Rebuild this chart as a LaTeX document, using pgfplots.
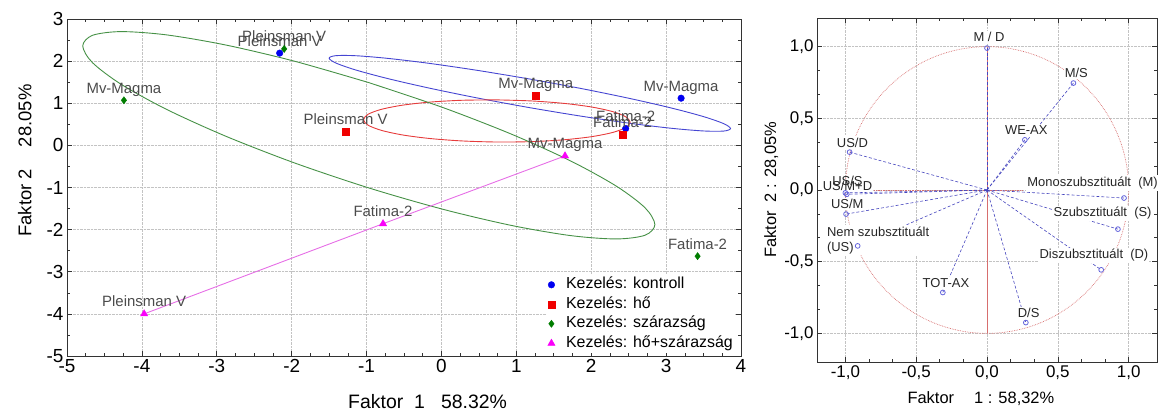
\documentclass[border=0pt]{standalone}
\usepackage{fontspec}
\setmainfont{Liberation Sans}
\usepackage{pgfplots}
\usepackage{pgfplotstable}
\pgfplotsset{compat=1.18}

\definecolor{cblue}{RGB}{0,0,240}
\definecolor{cred}{RGB}{240,0,0}
\definecolor{cgreen}{RGB}{0,125,0}
\definecolor{cmag}{RGB}{250,0,250}
\definecolor{eblue}{RGB}{70,70,210}
\definecolor{ered}{RGB}{230,60,60}
\definecolor{egreen}{RGB}{70,145,70}
\definecolor{lmag}{RGB}{230,110,230}
\definecolor{labgray}{RGB}{75,75,75}
\definecolor{vecblue}{RGB}{70,70,190}
\definecolor{markblue}{RGB}{100,100,220}
\definecolor{circred}{RGB}{215,110,110}
\definecolor{gridgray}{RGB}{195,195,195}

% Scores, treatment groups
\pgfplotstableread{
x y label
-2.16 2.19 {Pleinsman V}
3.20 1.12 Mv-Magma
2.46 0.40 Fatima-2
}\kontroll
\pgfplotstableread{
x y label
-1.28 0.33 {Pleinsman V}
1.26 1.18 Mv-Magma
2.42 0.25 Fatima-2
}\ho
\pgfplotstableread{
x y label
-2.10 2.29 {Pleinsman V}
-4.24 1.07 Mv-Magma
3.42 -2.63 Fatima-2
}\szarazsag
\pgfplotstableread{
x y label
-3.97 -4.00 {Pleinsman V}
-0.78 -1.86 Fatima-2
1.65 -0.25 Mv-Magma
}\hoszar
% Loadings
\pgfplotstableread{
x y label
0.000 0.990 M/D
0.610 0.746 M/S
0.267 0.350 WE-AX
-0.970 0.264 US/D
-0.990 -0.030 US/S
-1.000 -0.020 US/M+D
-0.995 -0.168 US/M
-0.913 -0.390 US
-0.312 -0.715 TOT-AX
0.274 -0.925 D/S
0.806 -0.557 D
0.924 -0.273 S
0.967 -0.056 M
}\loadings

\pgfplotsset{
  ptlabels/.style={nodes near coords, point meta=explicit symbolic,
    every node near coord/.append style={font=\fontsize{15}{15}\selectfont, text=labgray, anchor=base, yshift=7bp, inner sep=0pt}},
  framestyle/.style={
    scale only axis, tick align=inside,
    axis line style={black!80, line width=0.8bp},
    tick style={black!80, line width=0.6bp},
    major tick length=5bp, minor tick length=3bp,
    grid=major, major grid style={gridgray, densely dotted, line width=0.6bp},
    /pgf/number format/assume math mode=true,
    clip=false,
  },
}

\begin{document}
\begin{tikzpicture}[x=1bp,y=1bp,
  lbl/.style={font=\fontsize{13}{15}\selectfont, fill=white, inner xsep=1bp, inner ysep=1.5bp, text=black!85}]
\useasboundingbox (0,0) rectangle (1167,416);
\begin{axis}[framestyle,
  at={(67bp,60bp)}, anchor=south west,
  width=674bp, height=337bp,
  xmin=-5, xmax=4, ymin=-5, ymax=3,
  xtick={-5,-4,...,4}, ytick={-5,-4,...,3},
  minor x tick num=3, minor y tick num=1,
  ticklabel style={font=\fontsize{19}{19}\selectfont},
  xlabel={Faktor\ \ 1\ \ \ 58.32\%},
  ylabel={Faktor\ 2\hspace{22bp}28.05\%},
  xlabel style={font=\fontsize{19.5}{19.5}\selectfont, at={(axis description cs:0.535,-0.155)}, anchor=base},
  ylabel style={font=\fontsize{18.5}{18.5}\selectfont, at={(axis description cs:-0.053,0.58)}, anchor=base},
  legend style={at={(axis description cs:1,0)}, anchor=south east, xshift=-6bp, yshift=3bp,
    draw=none, fill=white, font=\fontsize{16}{16}\selectfont, inner sep=1bp,
    row sep=2.5bp, column sep=10bp, nodes={inner sep=1bp, text height=11.5bp, text depth=3.5bp}},
  legend cell align=left,
]
% confidence ellipses
\addplot[eblue, line width=0.9bp, smooth, no marks, forget plot] coordinates {
(1.18,1.575) (0.486,1.779) (-0.16,1.9465) (-0.715,2.065) (-1.141,2.128) (-1.409,2.13)
(-1.50,2.07) (-1.409,1.954) (-1.141,1.788) (-0.715,1.585) (-0.16,1.3585) (0.486,1.123)
(1.18,0.895) (1.874,0.691) (2.52,0.5235) (3.075,0.405) (3.501,0.342) (3.769,0.34)
(3.86,0.40) (3.769,0.516) (3.501,0.682) (3.075,0.885) (2.52,1.1115) (1.874,1.347) (1.18,1.575)};
\addplot[ered, line width=0.9bp, smooth, no marks, forget plot] coordinates {
(0.74,1.08) (0.279,1.071) (-0.15,1.028) (-0.518,0.955) (-0.801,0.856) (-0.979,0.739)
(-1.04,0.61) (-0.979,0.479) (-0.801,0.356) (-0.518,0.247) (-0.15,0.162) (0.279,0.105)
(0.74,0.08) (1.201,0.089) (1.63,0.132) (1.998,0.205) (2.281,0.304) (2.459,0.421)
(2.52,0.55) (2.459,0.681) (2.281,0.804) (1.998,0.913) (1.63,0.998) (1.201,1.055) (0.74,1.08)};
\addplot[egreen, line width=0.9bp, smooth, no marks, forget plot] coordinates {
(-0.97,1.49) (-1.959,1.9965) (-2.88,2.3825) (-3.671,2.623) (-4.278,2.701) (-4.66,2.612)
(-4.79,2.36) (-4.66,1.964) (-4.278,1.451) (-3.671,0.855) (-2.88,0.2175) (-1.959,-0.4185)
(-0.97,-1.01) (0.019,-1.5165) (0.94,-1.9025) (1.731,-2.143) (2.338,-2.221) (2.72,-2.132)
(2.85,-1.88) (2.72,-1.484) (2.338,-0.971) (1.731,-0.375) (0.94,0.2625) (0.019,0.8985) (-0.97,1.49)};
\addplot[lmag, line width=0.9bp, no marks, forget plot] table[x=x,y=y] {\hoszar};
% groups
\addplot[only marks, mark=*, mark size=3.3bp, cblue, ptlabels] table[x=x,y=y,meta=label] {\kontroll};
\addlegendentry{Kezelés: kontroll}
\addplot[only marks, mark=square*, mark size=3.4bp, cred, ptlabels] table[x=x,y=y,meta=label] {\ho};
\addlegendentry{Kezelés: hő}
\addplot[only marks, mark=diamond*, mark size=3.6bp, cgreen, ptlabels] table[x=x,y=y,meta=label] {\szarazsag};
\addlegendentry{Kezelés: szárazság}
\addplot[only marks, mark=triangle*, mark size=4.2bp, cmag, ptlabels] table[x=x,y=y,meta=label] {\hoszar};
\addlegendentry{Kezelés: hő+szárazság}
\end{axis}

\begin{axis}[framestyle,
  at={(817bp,54bp)}, anchor=south west,
  width=340bp, height=344bp,
  xmin=-1.2, xmax=1.2, ymin=-1.2, ymax=1.2,
  xtick={-1,-0.5,0,0.5,1}, ytick={-1,-0.5,0,0.5,1},
  minor tick num=2,
  /pgf/number format/fixed, /pgf/number format/fixed zerofill,
  /pgf/number format/precision=1, /pgf/number format/use comma,
  ticklabel style={font=\fontsize{17}{17}\selectfont},
  xlabel={Faktor\hspace{20bp}1 : 58,32\%},
  ylabel={Faktor\ \ 2 : 28,05\%},
  label style={font=\fontsize{16.5}{16.5}\selectfont},
  xlabel style={at={(axis description cs:0.482,-0.122)}, anchor=base},
  ylabel style={at={(axis description cs:-0.12,0.5)}, anchor=base},
]
\draw[circred, line width=0.7bp] (axis cs:0,1) -- (axis cs:0,-1);
\draw[circred, densely dotted, line width=0.7bp] (axis cs:-1,0) -- (axis cs:0.25,0);
\draw[circred, densely dotted, line width=0.7bp] (axis cs:0,0) ellipse [x radius=1, y radius=1];
\addplot[quiver={u=\thisrow{x}, v=\thisrow{y}}, vecblue, densely dashed, line width=0.6bp, no marks, forget plot]
  table[x expr=0, y expr=0] {\loadings};
\node[lbl] at (axis cs:0.014,1.066) {M / D};
\node[lbl] at (axis cs:0.63,0.82) {M/S};
\node[lbl] at (axis cs:0.277,0.415) {WE-AX};
\node[lbl] at (axis cs:-0.95,0.33) {US/D};
\node[lbl] at (axis cs:-0.985,0.032) {US/M+D};
\node[lbl, fill=none] at (axis cs:-0.985,0.066) {US/S};
\node[lbl] at (axis cs:-0.986,-0.096) {US/M};
\node[lbl, align=left, anchor=north west] at (axis cs:-1.138,-0.245) {Nem szubsztituált\\(US)};
\node[lbl] at (axis cs:-0.29,-0.648) {TOT-AX};
\node[lbl] at (axis cs:0.294,-0.86) {D/S};
\node[lbl] at (axis cs:0.755,-0.455) {Diszubsztituált\ \ (D)};
\node[lbl] at (axis cs:0.816,-0.164) {Szubsztituált\ \ (S)};
\node[lbl] at (axis cs:0.745,0.049) {Monoszubsztituált\ \ (M)};
\addplot[only marks, mark=o, mark size=2.4bp, markblue, mark options={line width=0.8bp}] table[x=x,y=y] {\loadings};
\end{axis}
\end{tikzpicture}
\end{document}
